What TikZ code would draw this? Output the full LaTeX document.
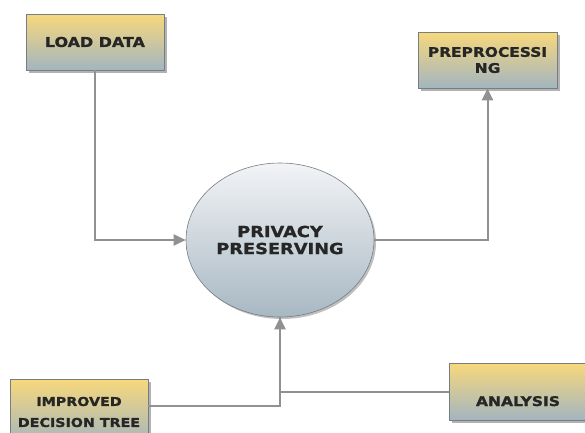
\documentclass[tikz,border=0pt]{standalone}
\usepackage{fontspec}
\newfontfamily\boxfont[FakeStretch=1.17,FakeBold=1.2]{DejaVu Sans Bold}
\usetikzlibrary{shadows,arrows.meta,shapes.geometric}
\definecolor{BoxTop}{RGB}{247,216,124}
\definecolor{BoxBot}{RGB}{163,181,192}
\definecolor{DiscTop}{RGB}{242,244,246}
\definecolor{DiscBot}{RGB}{168,184,195}
\definecolor{EdgeClr}{RGB}{118,126,130}
\definecolor{LinkClr}{RGB}{145,145,145}

\tikzset{
  procbox/.style={rectangle, draw=EdgeClr, line width=0.6pt,
    top color=BoxTop, bottom color=BoxBot,
    drop shadow={shadow xshift=3pt, shadow yshift=-3pt, fill=black, opacity=0.3},
    align=center, text=black!85, inner sep=0pt},
  procdisc/.style={ellipse, draw=EdgeClr, line width=0.6pt,
    top color=DiscTop, bottom color=DiscBot,
    drop shadow={shadow xshift=2pt, shadow yshift=-2pt, fill=black, opacity=0.25},
    align=center, text=black!85, inner sep=0pt},
  link/.style={draw=LinkClr, line width=2pt,
    -{Triangle[length=12pt,width=11pt]}},
  plain link/.style={draw=LinkClr, line width=2pt}
}

\begin{document}
\begin{tikzpicture}[x=1pt,y=-1pt]
\useasboundingbox (0,0) rectangle (585,432);

% process boxes
\node[procbox, minimum width=138pt, minimum height=56pt,
  font=\boxfont\fontsize{13.6}{16}\selectfont] (load) at (95,42) {LOAD DATA};
\node[procbox, minimum width=139pt, minimum height=56pt,
  font=\boxfont\fontsize{13.2}{16}\selectfont] (prep) at (487.5,60) {PREPROCESSI\\NG};
\node[procbox, minimum width=138pt, minimum height=66pt,
  font=\boxfont\fontsize{12.2}{21}\selectfont] (tree) at (79,412) {IMPROVED\\DECISION TREE};
\node[procbox, minimum width=138pt, minimum height=57pt, text height=29pt, text depth=0pt,
  font=\boxfont\fontsize{13.3}{16}\selectfont] (ana) at (518,391.5) {ANALYSIS};

% central process
\node[procdisc, minimum width=188pt, minimum height=154pt,
  font=\boxfont\fontsize{15.2}{17}\selectfont] (priv) at (280,240) {PRIVACY\\PRESERVING};

% data flows
\draw[link] (load.south) |- (priv.west);
\draw[link] (priv.east) -| (prep.south);
\draw[plain link] (ana.west) -| (priv.south);
\draw[link] ([yshift=6pt]tree.east) -| (priv.south);

\end{tikzpicture}
\end{document}
